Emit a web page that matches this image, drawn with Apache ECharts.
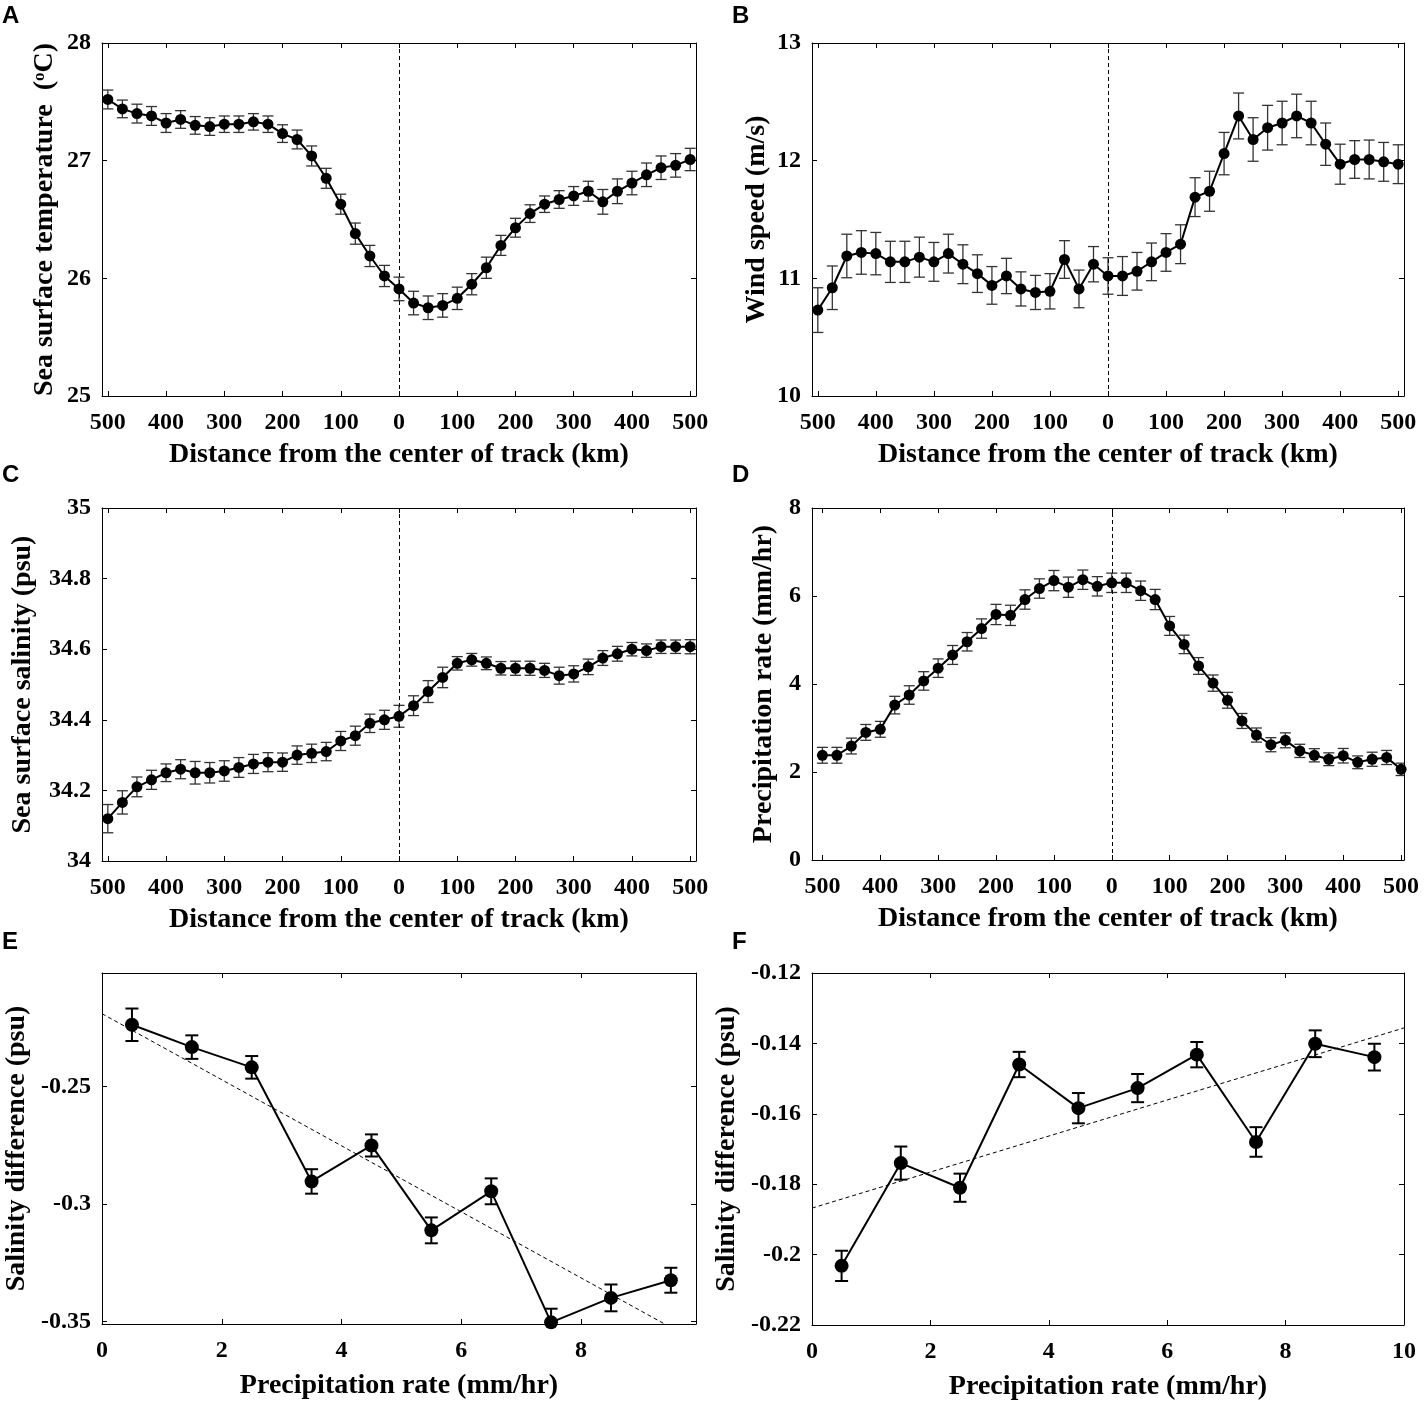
<!DOCTYPE html>
<html>
<head>
<meta charset="utf-8">
<script src="https://cdn.jsdelivr.net/npm/echarts@6/dist/echarts.min.js"></script>
<style>
html,body{margin:0;padding:0;background:#fff;}
#chart{width:1424px;height:1403px;}
</style>
</head>
<body>
<div id="chart"></div>
<script>
// ---------- data ----------
var distKm = [-500,-475,-450,-425,-400,-375,-350,-325,-300,-275,-250,-225,-200,-175,-150,-125,-100,-75,-50,-25,0,25,50,75,100,125,150,175,200,225,250,275,300,325,350,375,400,425,450,475,500];
var distTicks = [-500,-400,-300,-200,-100,0,100,200,300,400,500];

var sstMean = [27.52,27.44,27.40,27.38,27.32,27.35,27.30,27.29,27.31,27.31,27.33,27.31,27.23,27.18,27.04,26.85,26.63,26.38,26.19,26.02,25.91,25.79,25.75,25.77,25.83,25.95,26.09,26.28,26.43,26.55,26.63,26.67,26.70,26.74,26.65,26.74,26.81,26.88,26.94,26.96,27.01];
var sstErr = [0.08,0.075,0.08,0.08,0.08,0.075,0.075,0.075,0.07,0.07,0.07,0.07,0.075,0.08,0.085,0.085,0.085,0.09,0.09,0.09,0.10,0.10,0.10,0.10,0.095,0.09,0.09,0.085,0.08,0.075,0.07,0.075,0.08,0.085,0.105,0.105,0.10,0.10,0.10,0.10,0.095];

var windMean = [10.73,10.92,11.19,11.22,11.21,11.14,11.14,11.18,11.14,11.21,11.12,11.04,10.94,11.02,10.91,10.88,10.89,11.16,10.91,11.12,11.02,11.02,11.06,11.14,11.22,11.29,11.69,11.74,12.06,12.38,12.18,12.28,12.32,12.38,12.32,12.14,11.97,12.01,12.01,11.99,11.97];
var windErr = [0.19,0.185,0.185,0.185,0.18,0.175,0.175,0.17,0.165,0.165,0.165,0.16,0.16,0.15,0.145,0.145,0.15,0.16,0.16,0.15,0.155,0.165,0.16,0.16,0.16,0.165,0.165,0.17,0.18,0.195,0.185,0.19,0.185,0.185,0.185,0.18,0.17,0.16,0.165,0.165,0.165];

var sssMean = [34.12,34.166,34.21,34.23,34.25,34.26,34.25,34.25,34.255,34.265,34.275,34.28,34.28,34.30,34.305,34.31,34.34,34.355,34.39,34.40,34.41,34.44,34.48,34.52,34.56,34.57,34.56,34.546,34.546,34.546,34.54,34.525,34.53,34.55,34.575,34.587,34.60,34.596,34.607,34.607,34.607];
var sssErr = [0.04,0.033,0.028,0.027,0.025,0.027,0.032,0.029,0.029,0.028,0.027,0.027,0.026,0.026,0.026,0.026,0.027,0.027,0.026,0.027,0.031,0.028,0.031,0.029,0.019,0.018,0.018,0.019,0.02,0.02,0.02,0.024,0.023,0.022,0.021,0.021,0.019,0.019,0.019,0.019,0.02];

var precipMean = [2.38,2.38,2.59,2.90,2.97,3.52,3.75,4.07,4.36,4.66,4.96,5.26,5.58,5.56,5.92,6.17,6.35,6.20,6.37,6.22,6.30,6.30,6.12,5.92,5.32,4.90,4.41,4.02,3.63,3.16,2.84,2.62,2.72,2.48,2.38,2.29,2.37,2.22,2.29,2.33,2.06];
var precipErr = [0.18,0.18,0.18,0.18,0.18,0.2,0.21,0.21,0.21,0.215,0.21,0.22,0.23,0.23,0.22,0.22,0.23,0.23,0.22,0.22,0.22,0.22,0.22,0.23,0.215,0.21,0.19,0.185,0.18,0.17,0.16,0.16,0.17,0.15,0.15,0.145,0.165,0.145,0.16,0.16,0.14];

var rainBins = [0.5,1.5,2.5,3.5,4.5,5.5,6.5,7.5,8.5,9.5];
var diffE = [-0.2238,-0.2333,-0.2419,-0.2904,-0.2751,-0.3112,-0.2946,-0.3503,-0.3399,-0.3324];
var errE = [0.0069,0.005,0.0048,0.0052,0.0047,0.0055,0.0055,0.0058,0.0057,0.0053];
var diffF = [-0.2032,-0.174,-0.181,-0.146,-0.1584,-0.1527,-0.1432,-0.168,-0.1401,-0.1439];
var errF = [0.0043,0.0047,0.004,0.0036,0.0043,0.004,0.0036,0.0042,0.0038,0.0038];
var fitEx = [0, 9.375], fitEy = [-0.2191, -0.3507];
var fitFx = [0, 10], fitFy = [-0.1868, -0.1356];

var ticksSST = [25,26,27,28];
var ticksWind = [10,11,12,13];
var ticksSSS = [34,34.2,34.4,34.6,34.8,35];
var ticksPrec = [0,2,4,6,8];
var ticksRainE = [0,2,4,6,8];
var ticksRainF = [0,2,4,6,8,10];
var ticksDiffE = [-0.35,-0.3,-0.25];
var ticksDiffF = [-0.22,-0.2,-0.18,-0.16,-0.14,-0.12];

// ---------- styling / helpers ----------
var SERIF = '"Liberation Serif", "Times New Roman", serif';
var tickTxt = {fontFamily: SERIF, fontWeight: 'bold', fontSize: 24, lineHeight: 24, color: '#000'};
var nameTxt = {fontFamily: SERIF, fontWeight: 'bold', fontSize: 28, lineHeight: 28, color: '#000'};
function numFmt(v){ return String(Math.round(v*1000)/1000); }
function absFmt(v){ return String(Math.abs(Math.round(v))); }

var grids = [
  {left:102, top:43, width:594, height:353},
  {left:812, top:43, width:592, height:353},
  {left:102, top:508, width:594, height:353},
  {left:812, top:508, width:592, height:352},
  {left:102, top:973, width:594, height:351},
  {left:812, top:973, width:592, height:352}
];

var xAxes = [], yAxes = [];
function addX(gi, min, max, ticks, fmt, name, gap){
  var base = {type:'value', gridIndex:gi, min:min, max:max,
    axisLine:{show:true, onZero:false, lineStyle:{color:'#000', width:1}},
    axisTick:{show:true, inside:true, length:5, customValues:ticks, lineStyle:{color:'#000', width:1}},
    splitLine:{show:false}};
  xAxes.push(Object.assign({}, base, {position:'bottom',
    axisLabel:Object.assign({customValues:ticks, formatter:fmt, margin:15}, tickTxt),
    name:name, nameLocation:'middle', nameGap:gap,
    nameTextStyle:Object.assign({}, nameTxt)}));
  xAxes.push(Object.assign({}, base, {position:'top', axisLabel:{show:false}}));
  return xAxes.length - 2;
}
function addY(gi, min, max, ticks, name, gap, rich){
  var base = {type:'value', gridIndex:gi, min:min, max:max,
    axisLine:{show:true, onZero:false, lineStyle:{color:'#000', width:1}},
    axisTick:{show:true, inside:true, length:5, customValues:ticks, lineStyle:{color:'#000', width:1}},
    splitLine:{show:false}};
  var nts = Object.assign({}, nameTxt);
  if (rich) nts.rich = rich;
  yAxes.push(Object.assign({}, base, {position:'left',
    axisLabel:Object.assign({customValues:ticks, formatter:numFmt, margin:11}, tickTxt),
    name:name, nameLocation:'middle', nameGap:gap, nameTextStyle:nts}));
  yAxes.push(Object.assign({}, base, {position:'right', axisLabel:{show:false}}));
  return yAxes.length - 2;
}

var series = [];
function pairs(xs, ys){ return xs.map(function(x,i){ return [x, ys[i]]; }); }
function addPanel(xi, yi, xs, ys, es, opt){
  series.push({
    type:'custom', xAxisIndex:xi, yAxisIndex:yi, clip:true, silent:true, z:3,
    data: xs.map(function(x,i){ return [x, ys[i]-es[i], ys[i]+es[i]]; }),
    encode:{x:0, y:[1,2]},
    renderItem: function(params, api){
      var lo = api.coord([api.value(0), api.value(1)]);
      var hi = api.coord([api.value(0), api.value(2)]);
      var h = opt.cap/2;
      var st = {stroke:opt.errColor, lineWidth:opt.errWidth};
      return {type:'group', children:[
        {type:'line', shape:{x1:lo[0], y1:lo[1], x2:hi[0], y2:hi[1]}, style:st},
        {type:'line', shape:{x1:lo[0]-h, y1:lo[1], x2:lo[0]+h, y2:lo[1]}, style:st},
        {type:'line', shape:{x1:hi[0]-h, y1:hi[1], x2:hi[0]+h, y2:hi[1]}, style:st}
      ]};
    }
  });
  var s = {
    type:'line', xAxisIndex:xi, yAxisIndex:yi, data:pairs(xs, ys), z:4,
    symbol:'circle', symbolSize:opt.sym, showSymbol:true, animation:false,
    itemStyle:{color:'#000'}, lineStyle:{color:'#000', width:2}, silent:true
  };
  if (opt.zeroLine) {
    s.markLine = {silent:true, symbol:['none','none'], animation:false,
      label:{show:false}, lineStyle:{color:'#000', width:1, type:[4,3]},
      data:[{xAxis:0}]};
  }
  series.push(s);
}
function addFit(xi, yi, fx, fy){
  series.push({type:'line', xAxisIndex:xi, yAxisIndex:yi, data:pairs(fx, fy), z:2,
    symbol:'none', silent:true, animation:false,
    lineStyle:{color:'#000', width:1, type:[4,3]}});
}

var distName = 'Distance from the center of track (km)';
var rainName = 'Precipitation rate (mm/hr)';
var optA = {sym:11, cap:11, errColor:'#333', errWidth:1.3, zeroLine:true};
var optE = {sym:14, cap:13, errColor:'#000', errWidth:2, zeroLine:false};

// A
var xa = addX(0, -510, 510, distTicks, absFmt, distName, 45);
var ya = addY(0, 25, 28, ticksSST, '{n|Sea surface temperature  (}{s|o}{n|C)}', 43,
  {n:Object.assign({}, nameTxt), s:Object.assign({}, nameTxt, {fontSize:17, lineHeight:28, verticalAlign:'top'})});
addPanel(xa, ya, distKm, sstMean, sstErr, optA);
// B
var xb = addX(1, -510, 510, distTicks, absFmt, distName, 45);
var yb = addY(1, 10, 13, ticksWind, 'Wind speed (m/s)', 41);
addPanel(xb, yb, distKm, windMean, windErr, optA);
// C
var xc = addX(2, -510, 510, distTicks, absFmt, distName, 45);
var yc = addY(2, 34, 35, ticksSSS, 'Sea surface salinity (psu)', 65);
addPanel(xc, yc, distKm, sssMean, sssErr, optA);
// D
var xd = addX(3, -518, 505, distTicks, absFmt, distName, 45);
var yd = addY(3, 0, 8, ticksPrec, 'Precipitation rate (mm/hr)', 34);
addPanel(xd, yd, distKm, precipMean, precipErr, optA);
// E
var xe = addX(4, 0, 9.92, ticksRainE, numFmt, rainName, 48);
var ye = addY(4, -0.351, -0.2018, ticksDiffE, 'Salinity difference (psu)', 71);
addFit(xe, ye, fitEx, fitEy);
addPanel(xe, ye, rainBins, diffE, errE, optE);
// F
var xf = addX(5, 0, 10, ticksRainF, numFmt, rainName, 48);
var yf = addY(5, -0.22, -0.12, ticksDiffF, 'Salinity difference (psu)', 71);
addFit(xf, yf, fitFx, fitFy);
addPanel(xf, yf, rainBins, diffF, errF, optE);

var letterFont = 'bold 24px "Liberation Sans", Arial, sans-serif';
var letters = [['A',2,4],['B',732,4],['C',2,463],['D',732,463],['E',2,930],['F',732,930]];

var chart = echarts.init(document.getElementById('chart'), null, {renderer:'canvas'});
chart.setOption({
  backgroundColor:'#fff',
  animation:false,
  grid:grids,
  xAxis:xAxes,
  yAxis:yAxes,
  series:series,
  graphic: letters.map(function(l){
    return {type:'text', left:l[1], top:l[2], silent:true,
      style:{text:l[0], font:letterFont, fill:'#000'}};
  })
});
</script>
</body>
</html>
